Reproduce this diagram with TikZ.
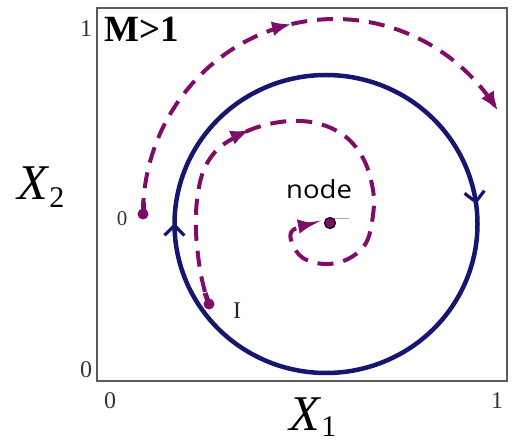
\documentclass[tikz,border=0pt]{standalone}
\usepackage{fontspec}
\setmainfont{Liberation Serif}
\newfontfamily\nodefont{Open Sans}
\usetikzlibrary{arrows.meta,decorations.markings}
\definecolor{cyc}{RGB}{22,22,112}
\definecolor{traj}{RGB}{128,12,105}
\definecolor{boxc}{RGB}{90,90,90}
\begin{document}
\begin{tikzpicture}[x=1pt,y=-1pt,
  cycleline/.style={cyc,line width=4.5pt},
  trajline/.style={traj,line width=4pt,dash pattern=on 16pt off 10pt},
  ticklbl/.style={font=\fontsize{24}{25}\selectfont,text=black!80,inner sep=0},
]
\useasboundingbox (0,0) rectangle (513,443);
% frame
\draw[boxc,line width=1.4pt] (97,8) rectangle (507,381);

% limit cycle
\draw[cycleline,postaction={decorate},
  decoration={markings,
    mark=at position 0.494 with {\arrow{Straight Barb[length=10pt,width=20pt,line width=3.2pt]}},
    mark=at position 0.972 with {\arrow{Straight Barb[length=10pt,width=20pt,line width=3.2pt]}}}]
  plot[domain=0:357.5,samples=144,smooth cycle] ({326+151.5*cos(\x)},{224+149*sin(\x)});

% outer trajectory from 0
\fill[traj] (143,214) circle[radius=5.5pt];
\draw[traj,line width=5pt] (143,214) -- (143,202);
\draw[trajline,-{Latex[length=19pt,width=15pt]},postaction={decorate},
  decoration={markings,
    mark=at position 0.52 with {\arrow{Latex[length=19pt,width=15pt]}}}]
  plot[domain=180:328,samples=60,smooth] ({335+192*cos(\x)},{214+195*sin(\x)});

% inner trajectory from I
\fill[traj] (209,304) circle[radius=5.5pt];
\draw[traj,line width=5pt] (209,304) -- (205,293);
\draw[trajline,-{Latex[length=19pt,width=15pt]},postaction={decorate},
  decoration={markings,
    mark=at position 0.35 with {\arrow{Latex[length=19pt,width=15pt]}}}]
  plot[smooth,tension=0.6] coordinates {(205,292) (201,275) (198,255) (196,230) (197,200) (203,172)
    (215,152) (232,139) (258,127) (290,121) (320,124) (346,137) (364,160) (373,190)
    (373,215) (366,243) (348,259) (325,264) (303,258) (292,243) (293,230) (317,223)};

% node point
\node[circle,fill=traj,draw=black,line width=1.2pt,minimum size=11pt,inner sep=0] (nd) at (330,223) {};
\draw[gray!70,line width=0.8pt] (nd.center) ++(4,-5) -- ++(15,0);

% labels
\node[font=\fontsize{37}{40}\selectfont\bfseries,anchor=base west,inner sep=0] (title) at (104,42) {M>1};
\node[font=\nodefont\fontsize{25}{27}\selectfont,anchor=base west,inner sep=0,xscale=1.1] (lbl) at (286,199) {node};
\node[font=\fontsize{21}{22}\selectfont,text=black!80,inner sep=0] (s0) at (122,219) {0};
\node[font=\fontsize{24}{26}\selectfont,text=black!85,inner sep=0] (sI) at (237,311) {I};
\node[ticklbl] (y1) at (86,29) {1};
\node[ticklbl] (y0) at (86,370) {0};
\node[ticklbl] (x0) at (110,401) {0};
\node[ticklbl] (x1) at (497,401) {1};
\node[anchor=base west,inner sep=0] (xl1) at (289,430) {\fontsize{50}{52}\selectfont\itshape X\/\raisebox{-6pt}{\upshape\fontsize{30}{32}\selectfont 1}};
\node[anchor=base west,inner sep=0] (xl2) at (17,200) {\fontsize{50}{52}\selectfont\itshape X\/\raisebox{-8pt}{\upshape\fontsize{30}{32}\selectfont 2}};
\end{tikzpicture}
\end{document}
